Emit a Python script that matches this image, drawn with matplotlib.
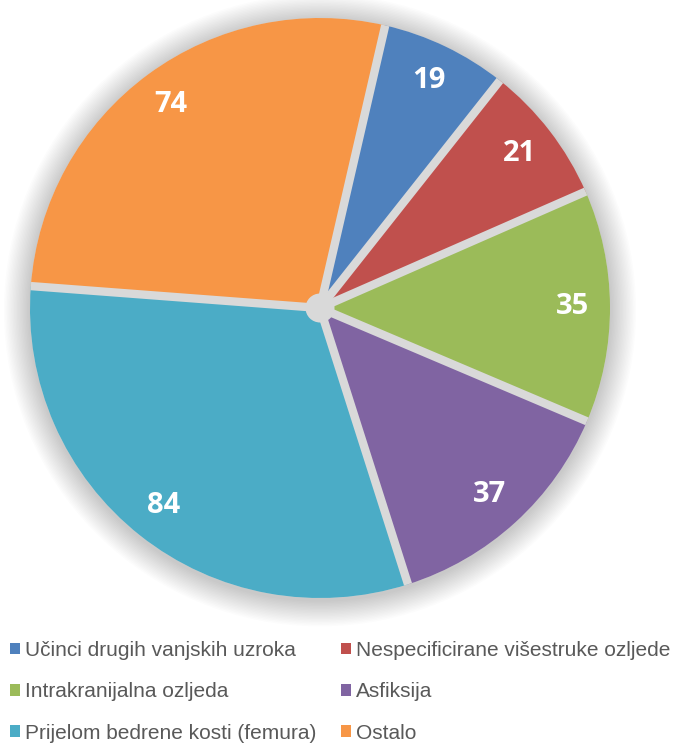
import numpy as np
import matplotlib.pyplot as plt
from matplotlib.patches import Circle

# data
categories = ["Učinci drugih vanjskih uzroka", "Nespecificirane višestruke ozljede",
              "Intrakranijalna ozljeda", "Asfiksija",
              "Prijelom bedrene kosti (femura)", "Ostalo"]
values = [19, 21, 35, 37, 84, 74]
colors = ["#4f81bd", "#c0504d", "#9bbb59", "#8064a2", "#4bacc6", "#f79646"]

total = sum(values)
start = 77

fig = plt.figure(figsize=(6.73, 7.43), dpi=100)
ax = fig.add_axes([1 / 673, 116 / 743, 638 / 673, 638 / 743])

# soft shadow around the pie
for i in range(18):
    r = 1.0 + 0.005 * (i + 1)
    ax.add_patch(Circle((0.0, -0.008), r, color='#000000', alpha=0.012,
                        lw=0, zorder=0))
ax.add_patch(Circle((0, 0), 1.0, color='#d9d9d9', lw=0, zorder=1))

wedges, texts, autotexts = ax.pie(
    values, colors=colors, startangle=start, counterclock=False,
    radius=1.0, pctdistance=0.87,
    autopct=lambda p: f'{round(p * total / 100)}',
    wedgeprops=dict(edgecolor='none', linewidth=0),
    textprops=dict(color='white', fontsize=21, fontweight='bold',
                   family=['Open Sans', 'DejaVu Sans']))
for w in wedges:
    w.set_zorder(2)
for t in autotexts:
    t.set_zorder(4)

# grey gaps between slices
angles = start - 360 * np.cumsum([0] + values[:-1]) / total
for a in np.deg2rad(angles):
    ax.plot([0, np.cos(a)], [0, np.sin(a)], color='#d9d9d9', lw=6,
            solid_capstyle='butt', zorder=3)
ax.add_patch(Circle((0, 0), 0.05, color='#d9d9d9', lw=0, zorder=3))

ax.set_xlim(-1.1, 1.1)
ax.set_ylim(-1.1, 1.1)
ax.set_aspect('equal')
ax.axis('off')

order = [0, 2, 4, 1, 3, 5]
leg = fig.legend([wedges[i] for i in order], [categories[i] for i in order],
                 ncol=2, loc='upper left', bbox_to_anchor=(0.008, 0.143),
                 frameon=False, handlelength=0.5, handleheight=0.5,
                 handletextpad=0.25, columnspacing=1.15, labelspacing=1.07,
                 borderaxespad=0, borderpad=0.2,
                 prop=dict(family=['Liberation Sans', 'DejaVu Sans'], size=15))
for t in leg.get_texts():
    t.set_color('#595959')
for h in leg.legend_handles:
    h.set_edgecolor('none')

plt.savefig('out.png', dpi=100)
